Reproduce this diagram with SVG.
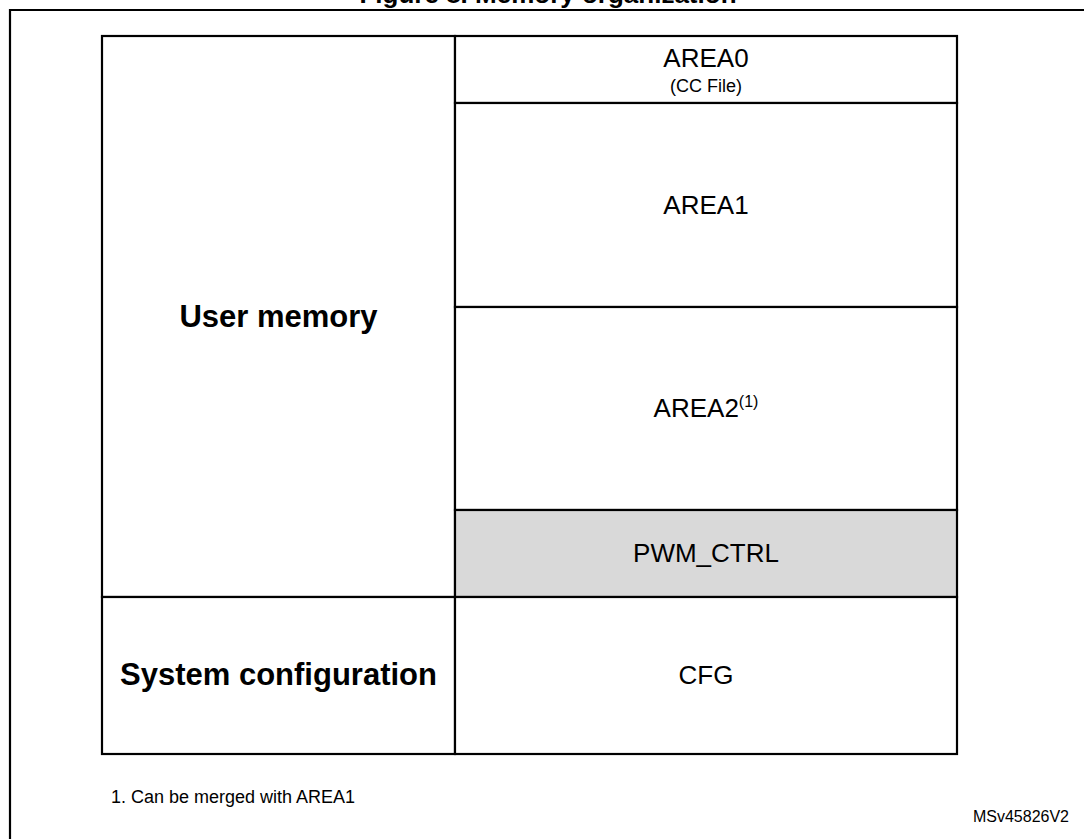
<svg xmlns="http://www.w3.org/2000/svg" width="1084" height="839" viewBox="0 0 1084 839">
<style>
text{font-family:"Liberation Sans",Arial,sans-serif;fill:#000}
.box{fill:#fff;stroke:#000;stroke-width:2.2}
.gray{fill:#d9d9d9;stroke:#000;stroke-width:2.2}
.lbl{font-size:26px;text-anchor:middle}
.big{font-size:31px;font-weight:bold;text-anchor:middle}
.frame{fill:none;stroke:#000;stroke-width:2.2}
</style>
<rect x="0" y="0" width="1084" height="839" fill="#fff"/>
<text x="548" y="3" font-size="26" font-weight="bold" text-anchor="middle">Figure 8. Memory organization</text>
<path class="frame" d="M10,839 V10 H1084"/>
<g id="user-memory">
<rect class="box" x="102" y="36" width="353" height="561"/>
<text class="big" x="278.5" y="327">User memory</text>
</g>
<g id="system-configuration">
<rect class="box" x="102" y="597" width="353" height="157"/>
<text class="big" x="278.5" y="685">System configuration</text>
</g>
<g id="area0">
<rect class="box" x="455" y="36" width="502" height="67"/>
<text class="lbl" x="706" y="67">AREA0</text>
<text x="706" y="92" font-size="18" text-anchor="middle">(CC File)</text>
</g>
<g id="area1">
<rect class="box" x="455" y="103" width="502" height="204"/>
<text class="lbl" x="706" y="214">AREA1</text>
</g>
<g id="area2">
<rect class="box" x="455" y="307" width="502" height="203"/>
<text class="lbl" x="706" y="417">AREA2<tspan font-size="16" dy="-10">(1)</tspan></text>
</g>
<g id="pwm-ctrl">
<rect class="gray" x="455" y="510" width="502" height="87"/>
<text class="lbl" x="706" y="562">PWM_CTRL</text>
</g>
<g id="cfg">
<rect class="box" x="455" y="597" width="502" height="157"/>
<text class="lbl" x="706" y="684">CFG</text>
</g>
<g id="connectors"></g>
<text x="111" y="803" font-size="18">1. Can be merged with AREA1</text>
<text x="1069" y="822" font-size="16" text-anchor="end">MSv45826V2</text>
</svg>
